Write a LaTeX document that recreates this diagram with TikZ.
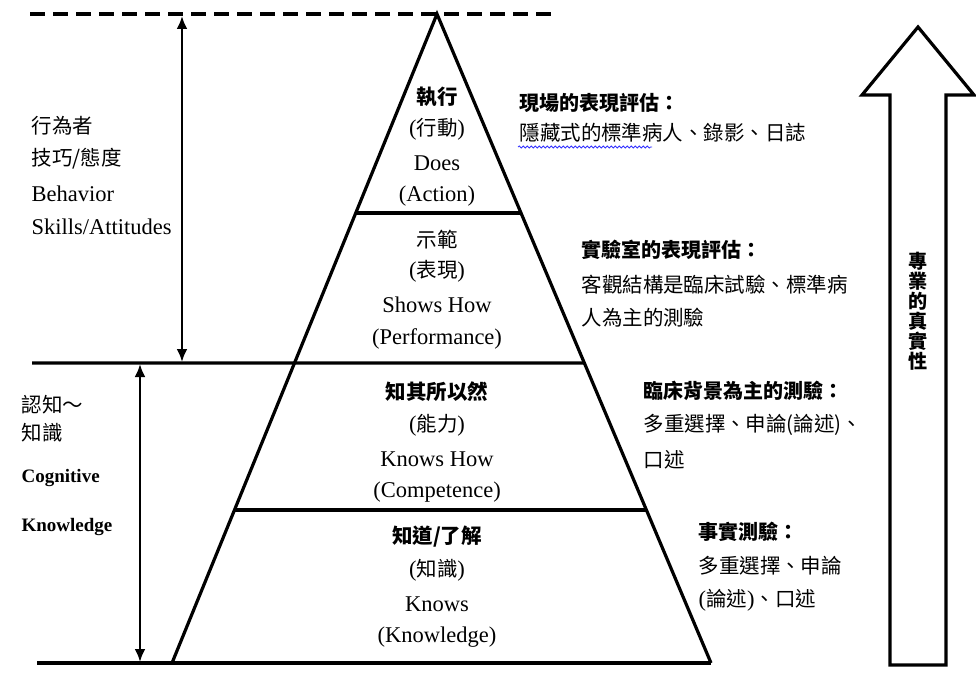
\documentclass[tikz,border=0pt]{standalone}
\usepackage{fontspec}
\setmainfont{Liberation Serif}
\newfontfamily\cjkf{Noto Sans CJK TC}[Scale=0.91]
\newcommand\zh[1]{{\cjkf #1}}
\usetikzlibrary{arrows.meta,decorations.pathmorphing,calc}
\begin{document}
\begin{tikzpicture}[x=1pt,y=-1pt,
  line width=3.2pt,
  txt/.style={inner sep=0pt,font=\fontsize{22.5}{26}\selectfont},
  lbl/.style={txt,anchor=west},
  ttl/.style={txt,font=\fontsize{22.5}{26}\selectfont\bfseries},
  dblarrow/.style={line width=2.4pt,{Latex[length=13pt,width=11pt]}-{Latex[length=13pt,width=11pt]}}]
\useasboundingbox (0,0) rectangle (976,685);
% pyramid corners
\coordinate (A) at (437,14);
\coordinate (BL) at (172,663);
\coordinate (BR) at (711,663);
\coordinate (L1) at ($(A)!0.3066!(BL)$);
\coordinate (R1) at ($(A)!0.3066!(BR)$);
\coordinate (L2) at ($(A)!0.5378!(BL)$);
\coordinate (R2) at ($(A)!0.5378!(BR)$);
\coordinate (L3) at ($(A)!0.7643!(BL)$);
\coordinate (R3) at ($(A)!0.7643!(BR)$);
\coordinate (D0) at (30,14);
\coordinate (D1) at (556,14);
\coordinate (M0) at (32,363);
\coordinate (B0) at (37,663);
% dashed top line
\draw[line width=3.5pt,dash pattern=on 15pt off 8pt] (D0) -- (D1);
% pyramid
\draw[line join=miter] (BL) -- (A) -- (BR);
\draw (B0) -- (BR);
\draw (L1) -- (R1);
\draw (M0) -- (R2);
\draw (L3) -- (R3);
% double arrows
\coordinate (UA) at (182,16);
\coordinate (UB) at (182,362);
\coordinate (LA) at (140,364);
\coordinate (LB) at (140,662);
\draw[dblarrow] (UA) -- (UB);
\draw[dblarrow] (LA) -- (LB);
% pyramid texts
\node[ttl] (p1a) at (437,97) {\zh{執行}};
\node[txt] (p1b) at (437,129) {(\zh{行動})};
\node[txt] (p1c) at (437,163) {Does};
\node[txt] (p1d) at (437,196) {(Action)};
\node[txt] (p2a) at (437,240) {\zh{示範}};
\node[txt] (p2b) at (437,271) {(\zh{表現})};
\node[txt] (p2c) at (437,305) {Shows How};
\node[txt] (p2d) at (437,339) {(Performance)};
\node[ttl] (p3a) at (437,392) {\zh{知其所以然}};
\node[txt] (p3b) at (437,425) {(\zh{能力})};
\node[txt] (p3c) at (437,459) {Knows How};
\node[txt] (p3d) at (437,492) {(Competence)};
\node[ttl] (p4a) at (437,537) {\zh{知道/了解}};
\node[txt] (p4b) at (437,570) {(\zh{知識})};
\node[txt] (p4c) at (437,604) {Knows};
\node[txt] (p4d) at (437,637) {(Knowledge)};
% left texts
\node[lbl] (l1) at (30,126) {\zh{行為者}};
\node[lbl] (l2) at (30,159) {\zh{技巧/態度}};
\node[lbl] (l3) at (30,194) {Behavior};
\node[lbl] (l4) at (30,227) {Skills/Attitudes};
\node[lbl] (c1) at (20,405) {\zh{認知～}};
\node[lbl] (c2) at (20,433) {\zh{知識}};
\node[lbl,font=\fontsize{19}{22}\selectfont\bfseries] (c3) at (20,478) {Cognitive};
\node[lbl,font=\fontsize{19}{22}\selectfont\bfseries] (c4) at (20,527) {Knowledge};
% right texts
\node[lbl,font=\fontsize{22}{26}\selectfont\bfseries] (r1a) at (518,103) {\zh{現場的表現評估：}};
\node[lbl] (r1b) at (518,133) {\zh{隱藏式的標準病人、錄影、日誌}};
\draw[blue!80!white,line width=0.8pt,decorate,decoration={snake,segment length=4pt,amplitude=1pt}] (518,147) -- (652,147);
\node[lbl,font=\fontsize{22}{26}\selectfont\bfseries] (r2a) at (580,250) {\zh{實驗室的表現評估：}};
\node[lbl] (r2b) at (580,285) {\zh{客觀結構是臨床試驗、標準病}};
\node[lbl] (r2c) at (580,318) {\zh{人為主的測驗}};
\node[lbl,font=\fontsize{22}{26}\selectfont\bfseries] (r3a) at (642,391) {\zh{臨床背景為主的測驗：}};
\node[lbl] (r3b) at (642,425) {\zh{多重選擇、申論(論述)、}};
\node[lbl] (r3c) at (642,460) {\zh{口述}};
\node[lbl,font=\fontsize{22}{26}\selectfont\bfseries] (r4a) at (697,532) {\zh{事實測驗：}};
\node[lbl] (r4b) at (697,566) {\zh{多重選擇、申論}};
\node[lbl] (r4c) at (697,600) {(\zh{論述})\zh{、口述}};
% big up arrow
\draw[line join=miter] (890,665) -- (890,95) -- (862,95) -- (918,27) -- (974,95) -- (946,95) -- (946,665) -- cycle;
\node[txt,align=center,font=\fontsize{21}{20}\selectfont\bfseries] (ar) at (918,311) {\zh{專}\\\zh{業}\\\zh{的}\\\zh{真}\\\zh{實}\\\zh{性}};
\end{tikzpicture}
\end{document}
